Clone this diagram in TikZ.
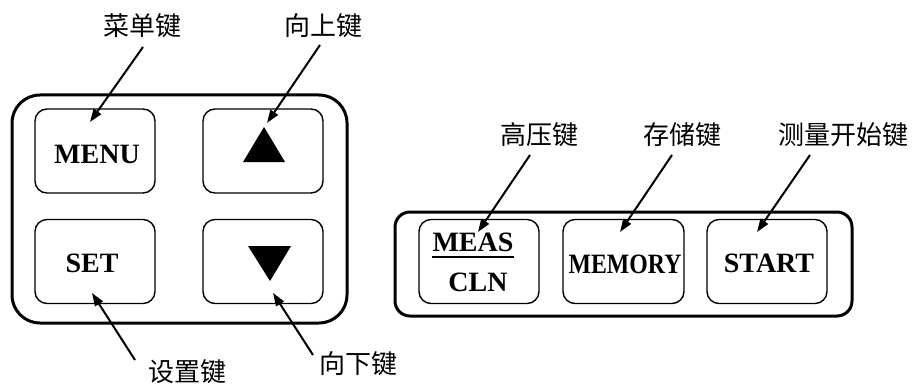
\documentclass[tikz,border=0pt]{standalone}
\usepackage{fontspec}
\usepackage{graphicx}
\setmainfont{Liberation Serif}
\newfontfamily\cjk{Noto Sans CJK SC}
\usetikzlibrary{arrows.meta}
\begin{document}
\begin{tikzpicture}[x=1pt,y=-1pt,
  panel/.style={draw,line width=3pt,rounded corners=#1},
  keybox/.style={draw,line width=1.4pt,rounded corners=12pt,
    minimum width=120pt,minimum height=84pt,inner sep=0pt},
  keytext/.style={inner sep=0pt,font=\fontsize{28}{30}\selectfont\bfseries},
  callout/.style={inner sep=0pt,font=\cjk\fontsize{26}{28}\selectfont},
  pointer/.style={line width=2pt,-{Triangle[length=13pt,width=9pt]}}]
\useasboundingbox (0,0) rectangle (915,385);

% housings
\draw[panel=28pt] (12,95) rectangle (347,323);
\draw[panel=15pt] (395,212) rectangle (852,316);

% left keypad
\node[keybox] (menu) at (95,151) {};
\node[keybox] (up)   at (263,151) {};
\node[keybox] (set)  at (95,261.5) {};
\node[keybox] (down) at (263,261.5) {};
\node[keytext] (menutxt) at (97,154) {MENU};
\node[keytext] (settxt)  at (92,263) {SET};
\fill (243,162) -- (285,162) -- (264,127) -- cycle;
\fill (248,246) -- (291,246) -- (270,281) -- cycle;

% right keypad
\node[keybox] (meas)   at (479,261.5) {};
\node[keybox,minimum width=121pt] (memory) at (623.5,261.5) {};
\node[keybox] (start)  at (767,261.5) {};
\node[keytext] (meastxt) at (473,242) {MEAS};
\draw[line width=2.4pt] (432,257) -- (514,257);
\node[keytext] (clntxt)  at (478,282) {CLN};
\node[keytext] (memtxt)  at (625,264) {\scalebox{0.85}[1]{MEMORY}};
\node[keytext] (starttxt) at (769,263) {START};

% callouts
\node[callout] (lmenu)   at (142,26)  {菜单键};
\node[callout] (lup)     at (323,26)  {向上键};
\node[callout] (lset)    at (187,372) {设置键};
\node[callout] (ldown)   at (358,364) {向下键};
\node[callout] (lmeas)   at (539,135) {高压键};
\node[callout] (lmemory) at (682,135) {存储键};
\node[callout] (lstart)  at (843,135) {测量开始键};

% pointer ends
\coordinate (menu-a) at (143,47);  \coordinate (menu-b) at (90,122);
\coordinate (up-a)   at (320,45);  \coordinate (up-b)   at (267,123);
\coordinate (set-a)  at (135,360); \coordinate (set-b)  at (92,293);
\coordinate (down-a) at (313,355); \coordinate (down-b) at (273,293);
\coordinate (meas-a) at (530,155); \coordinate (meas-b) at (478,232);
\coordinate (mem-a)  at (672,155); \coordinate (mem-b)  at (620,232);
\coordinate (start-a) at (810,155); \coordinate (start-b) at (757,232);

\draw[pointer] (menu-a) -- (menu-b);
\draw[pointer] (up-a) -- (up-b);
\draw[pointer] (set-a) -- (set-b);
\draw[pointer] (down-a) -- (down-b);
\draw[pointer] (meas-a) -- (meas-b);
\draw[pointer] (mem-a) -- (mem-b);
\draw[pointer] (start-a) -- (start-b);
\end{tikzpicture}
\end{document}
